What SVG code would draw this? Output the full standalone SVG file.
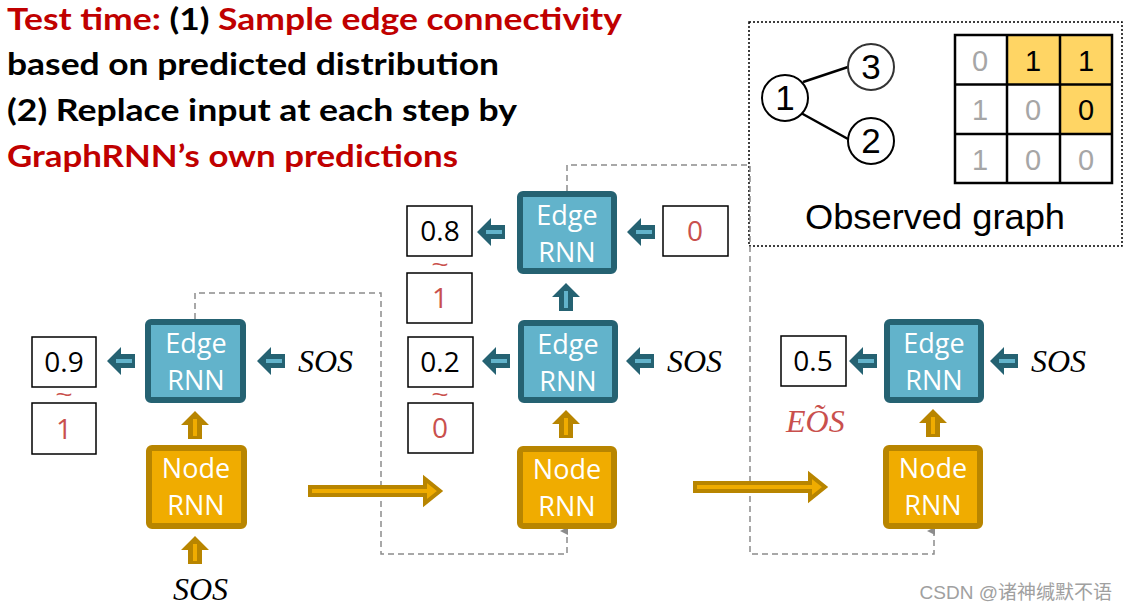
<svg xmlns="http://www.w3.org/2000/svg" xmlns:xlink="http://www.w3.org/1999/xlink" width="1127" height="611" viewBox="0 0 1127 611">
<style>
.title{font-family:Lato,"Open Sans","Liberation Sans",sans-serif;font-weight:bold;font-size:31px}
.red{fill:#C00000}
.blk{fill:#000}
.edge rect{fill:#62B3CB;stroke:#256272;stroke-width:6}
.node rect{fill:#F0AC00;stroke:#B88500;stroke-width:6}
.lbl{font-family:"Open Sans","Noto Sans",sans-serif;font-size:27px;fill:#fff;text-anchor:middle}
.nb rect{fill:#fff;stroke:#000;stroke-width:1.5}
.num{font-family:"Open Sans","Noto Sans",sans-serif;font-size:28px;text-anchor:middle}
.rnum{fill:#C9504D}
.sos{font-family:"Liberation Serif",serif;font-style:italic;font-size:32px;fill:#000}
.tl{font-family:"Liberation Sans",sans-serif;font-size:22px;fill:#C9504D;text-anchor:middle}
.dash{fill:none;stroke:#8C8C8C;stroke-width:1.5;stroke-dasharray:6 4}
.big{fill:#F0AC00;stroke:#B88500;stroke-width:4}
.hv{font-family:"Liberation Sans",Arial,sans-serif}
.mx{font-size:29px;text-anchor:middle}
.g{fill:#A6A6A6}
</style>
<defs>
<g id="la">
<polygon points="0,0 14,-14 14,-7 28,-7 28,7 14,7 14,14" fill="#256272"/>
<line x1="9" y1="0" x2="25" y2="0" stroke="#62B3CB" stroke-width="4"/>
</g>
<g id="ua">
<polygon points="0,0 14,14 7,14 7,28 -7,28 -7,14 -14,14" fill="#B88500"/>
<line x1="0" y1="8" x2="0" y2="25" stroke="#F0AC00" stroke-width="4"/>
</g>
<g id="ut">
<polygon points="0,0 14,14 7,14 7,28 -7,28 -7,14 -14,14" fill="#256272"/>
<line x1="0" y1="8" x2="0" y2="25" stroke="#62B3CB" stroke-width="4"/>
</g>
<marker id="ga" markerWidth="8" markerHeight="8" refX="4" refY="7" orient="auto-start-reverse" markerUnits="userSpaceOnUse" viewBox="0 0 8 8">
<path d="M0,8 L4,0 L8,8 Z" fill="#8C8C8C"/>
</marker>
</defs>
<rect width="1127" height="611" fill="#fff"/>

<g id="title">
<text class="title" x="7" y="30" textLength="615" lengthAdjust="spacingAndGlyphs"><tspan class="red">Test time: </tspan><tspan class="blk">(1) </tspan><tspan class="red">Sample edge connectivity</tspan></text>
<text class="title blk" x="7" y="75" textLength="492" lengthAdjust="spacingAndGlyphs">based on predicted distribution</text>
<text class="title blk" x="7" y="121" textLength="510" lengthAdjust="spacingAndGlyphs">(2) Replace input at each step by</text>
<text class="title red" x="7" y="167" textLength="451" lengthAdjust="spacingAndGlyphs">GraphRNN’s own predictions</text>
</g>

<g id="observed">
<rect x="749" y="22" width="373" height="224" fill="none" stroke="#000" stroke-width="1.5" stroke-dasharray="2 2"/>
<line x1="803" y1="82" x2="848" y2="67" stroke="#000" stroke-width="2.5"/>
<line x1="801" y1="113" x2="848" y2="139" stroke="#000" stroke-width="2.5"/>
<circle cx="785" cy="98" r="23" fill="#fff" stroke="#000" stroke-width="2"/>
<circle cx="871" cy="67" r="23" fill="#fff" stroke="#333" stroke-width="2"/>
<circle cx="871" cy="141" r="23" fill="#fff" stroke="#000" stroke-width="2"/>
<text class="hv" x="785" y="110" font-size="35" text-anchor="middle">1</text>
<text class="hv" x="871" y="79" font-size="35" text-anchor="middle">3</text>
<text class="hv" x="871" y="153" font-size="35" text-anchor="middle">2</text>
<rect x="1007" y="35" width="105" height="49.5" fill="#FFD564"/>
<rect x="1060" y="84.5" width="52" height="49.5" fill="#FFD564"/>
<g stroke="#000" stroke-width="2.5" fill="none">
<rect x="955" y="35" width="157" height="148"/>
<line x1="1007" y1="35" x2="1007" y2="183"/>
<line x1="1060" y1="35" x2="1060" y2="183"/>
<line x1="955" y1="84.5" x2="1112" y2="84.5"/>
<line x1="955" y1="134" x2="1112" y2="134"/>
</g>
<g class="hv mx">
<text class="g" x="980" y="71">0</text>
<text x="1033" y="71">1</text>
<text x="1086" y="71">1</text>
<text class="g" x="980" y="120">1</text>
<text class="g" x="1033" y="120">0</text>
<text x="1086" y="120">0</text>
<text class="g" x="980" y="170">1</text>
<text class="g" x="1033" y="170">0</text>
<text class="g" x="1086" y="170">0</text>
</g>
<text class="hv" x="935" y="229" font-size="35" text-anchor="middle" textLength="260" lengthAdjust="spacingAndGlyphs">Observed graph</text>
</g>

<g id="connectors">
<path class="dash" d="M195,319 V293 H381 V554 H567 V531" marker-end="url(#ga)"/>
<path class="dash" d="M567,191 V165 H750 V554 H934 V531" marker-end="url(#ga)"/>
<polygon class="big" points="310,487 425,487 425,479 440,491 425,503 425,495 310,495"/>
<polygon class="big" points="695,483 810,483 810,475 825,487 810,499 810,491 695,491"/>
<use xlink:href="#la" x="107" y="361"/>
<use xlink:href="#la" x="257" y="361"/>
<use xlink:href="#la" x="477" y="232"/>
<use xlink:href="#la" x="627" y="232"/>
<use xlink:href="#la" x="482" y="361"/>
<use xlink:href="#la" x="626" y="361"/>
<use xlink:href="#la" x="849" y="361"/>
<use xlink:href="#la" x="990" y="361"/>
<use xlink:href="#ua" x="195" y="411"/>
<use xlink:href="#ua" x="195" y="536"/>
<use xlink:href="#ua" x="566" y="410"/>
<use xlink:href="#ua" x="933" y="409"/>
<use xlink:href="#ut" x="566" y="283"/>
</g>

<g id="edge1" class="edge"><rect x="148" y="322" width="95" height="78" rx="3"/><text class="lbl" x="196" y="353">Edge</text><text class="lbl" x="196" y="390">RNN</text></g>
<g id="node1" class="node"><rect x="149" y="448" width="95" height="78" rx="3"/><text class="lbl" x="196" y="478">Node</text><text class="lbl" x="196" y="515">RNN</text></g>
<g id="edge2top" class="edge"><rect x="520" y="194" width="94" height="77" rx="3"/><text class="lbl" x="567" y="225">Edge</text><text class="lbl" x="567" y="262">RNN</text></g>
<g id="edge2" class="edge"><rect x="521" y="323" width="94" height="77" rx="3"/><text class="lbl" x="568" y="354">Edge</text><text class="lbl" x="568" y="391">RNN</text></g>
<g id="node2" class="node"><rect x="520" y="449" width="94" height="77" rx="3"/><text class="lbl" x="567" y="479">Node</text><text class="lbl" x="567" y="516">RNN</text></g>
<g id="edge3" class="edge"><rect x="887" y="322" width="94" height="78" rx="3"/><text class="lbl" x="934" y="353">Edge</text><text class="lbl" x="934" y="390">RNN</text></g>
<g id="node3" class="node"><rect x="886" y="448" width="94" height="78" rx="3"/><text class="lbl" x="933" y="478">Node</text><text class="lbl" x="933" y="515">RNN</text></g>

<g id="b09" class="nb"><rect x="32" y="337" width="64" height="50"/><text class="num" x="64" y="372">0.9</text></g>
<g id="b1a" class="nb"><rect x="32" y="403" width="64" height="51"/><text class="num rnum" x="64" y="439">1</text></g>
<g id="b08" class="nb"><rect x="407" y="206" width="65" height="50"/><text class="num" x="440" y="241">0.8</text></g>
<g id="b1b" class="nb"><rect x="407" y="273" width="65" height="50"/><text class="num rnum" x="440" y="308">1</text></g>
<g id="b02" class="nb"><rect x="408" y="337" width="65" height="50"/><text class="num" x="440" y="372">0.2</text></g>
<g id="b0a" class="nb"><rect x="408" y="403" width="65" height="50"/><text class="num rnum" x="440" y="438">0</text></g>
<g id="b0in" class="nb"><rect x="663" y="206" width="65" height="50"/><text class="num rnum" x="695" y="241">0</text></g>
<g id="b05" class="nb"><rect x="781" y="336" width="65" height="50"/><text class="num" x="813" y="371">0.5</text></g>

<g id="labels">
<text class="tl" x="64" y="402" textLength="17" lengthAdjust="spacingAndGlyphs">~</text>
<text class="tl" x="440" y="272" textLength="17" lengthAdjust="spacingAndGlyphs">~</text>
<text class="tl" x="440" y="402" textLength="17" lengthAdjust="spacingAndGlyphs">~</text>
<text class="sos" x="298" y="372">SOS</text>
<text class="sos" x="173" y="600">SOS</text>
<text class="sos" x="667" y="372">SOS</text>
<text class="sos" x="1031" y="372">SOS</text>
<text class="sos" x="786" y="432" style="fill:#C9504D">EÕS</text>
</g>

<text id="watermark" x="1112" y="599" font-family="'Liberation Sans','Noto Sans CJK SC',sans-serif" font-size="19" fill="#A0A0A0" text-anchor="end">CSDN @诸神缄默不语</text>
</svg>
